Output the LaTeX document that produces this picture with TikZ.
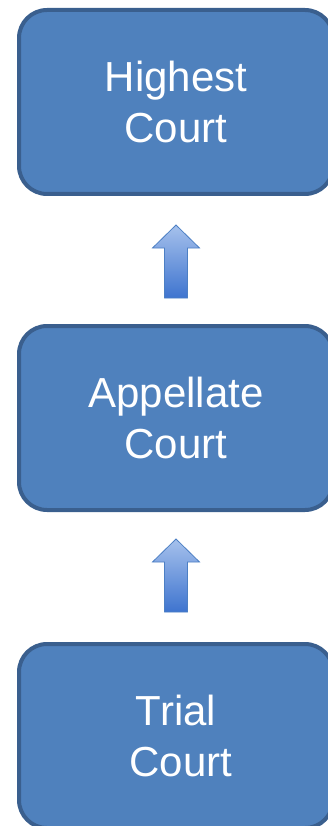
\documentclass[tikz,border=0pt]{standalone}
\usepackage{fontspec}
\setmainfont{Liberation Sans}
\definecolor{courtfill}{HTML}{4F81BD}
\definecolor{courtline}{HTML}{3A5F8E}
\definecolor{arrowtop}{HTML}{A6C1EC}
\definecolor{arrowbot}{HTML}{3E74CF}
\definecolor{arrowline}{HTML}{4C7FC4}
\begin{document}
\begin{tikzpicture}[x=1pt, y=1pt,
        court/.style={draw=courtline, line width=4pt, fill=courtfill, rounded corners=28pt,
            minimum width=314pt, minimum height=184pt, align=center, text=white,
            font=\fontsize{42}{51}\selectfont},
        uparrow/.style={top color=arrowtop, bottom color=arrowbot, draw=arrowline, line width=0.8pt}]
        \useasboundingbox (0,0) rectangle (328,-826);
        \clip (0,0) rectangle (328,-826);

        \node[court] (highest) at (176,-102) {Highest\\Court};
        \node[court] (appellate) at (176,-418) {Appellate\\Court};
        \node[court] (trial) at (176,-736) {Trial\\\hspace{10pt}Court};

        % block arrows between the courts
        \coordinate (up1) at (176,-298);
        \coordinate (up2) at (176,-612);
        \path[uparrow] (up1) ++(-11.5,0) -- ++(0,50) -- ++(-12,0) -- ++(23.5,23)
            -- ++(23.5,-23) -- ++(-12,0) -- ++(0,-50) -- cycle;
        \path[uparrow] (up2) ++(-11.5,0) -- ++(0,50) -- ++(-12,0) -- ++(23.5,23)
            -- ++(23.5,-23) -- ++(-12,0) -- ++(0,-50) -- cycle;
\end{tikzpicture}
\end{document}
